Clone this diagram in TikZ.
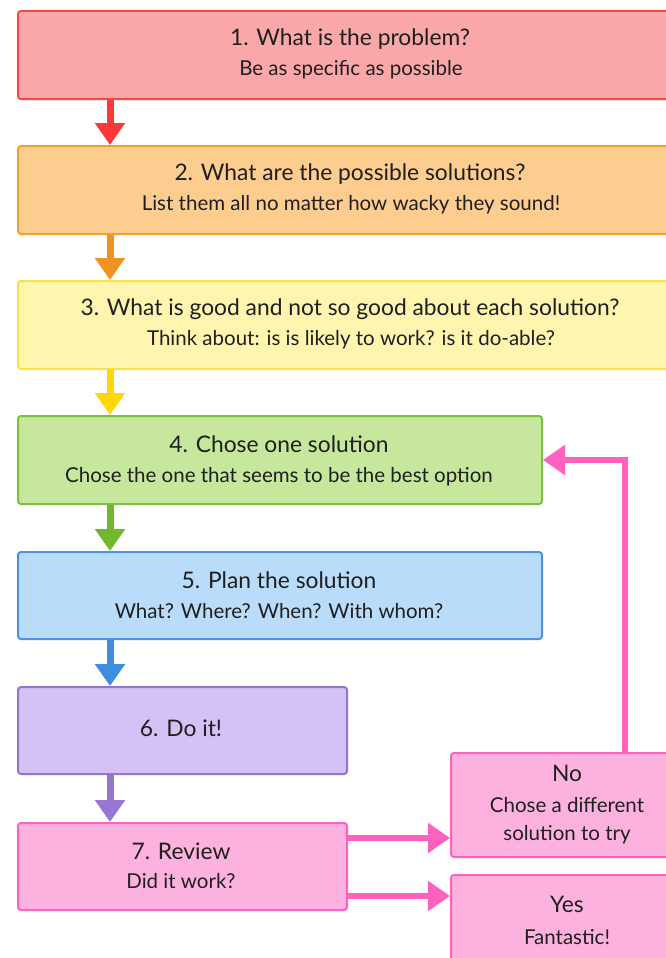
\documentclass[tikz,border=0pt]{standalone}
\usepackage{fontspec}
\setmainfont{Lato}
\usetikzlibrary{arrows.meta}

\definecolor{redfill}{HTML}{F9A7A9}\definecolor{redline}{HTML}{F24A4A}\definecolor{redarrow}{HTML}{FA3A3A}
\definecolor{orgfill}{HTML}{FDCD90}\definecolor{orgline}{HTML}{F2A02E}\definecolor{orgarrow}{HTML}{F2921E}
\definecolor{yelfill}{HTML}{FFF5AE}\definecolor{yelline}{HTML}{FAE04A}\definecolor{yelarrow}{HTML}{FFD60A}
\definecolor{grnfill}{HTML}{C6E79C}\definecolor{grnline}{HTML}{7DBF3F}\definecolor{grnarrow}{HTML}{72B82C}
\definecolor{blufill}{HTML}{B9DCFB}\definecolor{bluline}{HTML}{4C93E0}\definecolor{bluarrow}{HTML}{3E8EE0}
\definecolor{purfill}{HTML}{D4C1F6}\definecolor{purline}{HTML}{9474D2}\definecolor{purarrow}{HTML}{9676D0}
\definecolor{pnkfill}{HTML}{FDB1DF}\definecolor{pnkline}{HTML}{FF62BC}\definecolor{pnkarrow}{HTML}{FF62BE}

\tikzset{
  stepbox/.style={draw, line width=2pt, rounded corners=3pt, anchor=north west, inner sep=0pt},
  ttl/.style={font=\fontsize{22.8}{26}\selectfont, anchor=center, text=black!88},
  sub/.style={font=\fontsize{20.5}{24}\selectfont, anchor=center, text=black!88},
  flow/.style={line width=7pt, -{Triangle[width=29pt,length=22pt]}},
}

\begin{document}
\begin{tikzpicture}[x=1pt,y=-1pt]
\useasboundingbox (0,0) rectangle (665,958);
\fill[white] (0,0) rectangle (665,958);

% main column of steps
\node[stepbox, fill=redfill, draw=redline, minimum width=666pt, minimum height=88pt] (b1) at (17,10) {};
\node[stepbox, fill=orgfill, draw=orgline, minimum width=666pt, minimum height=88pt] (b2) at (17,145) {};
\node[stepbox, fill=yelfill, draw=yelline, minimum width=666pt, minimum height=88pt] (b3) at (17,280) {};
\node[stepbox, fill=grnfill, draw=grnline, minimum width=524pt, minimum height=88pt] (b4) at (17,415) {};
\node[stepbox, fill=blufill, draw=bluline, minimum width=524pt, minimum height=87pt] (b5) at (17,551) {};
\node[stepbox, fill=purfill, draw=purline, minimum width=329pt, minimum height=87pt] (b6) at (17,686) {};
\node[stepbox, fill=pnkfill, draw=pnkline, minimum width=329pt, minimum height=87pt] (b7) at (17,822) {};
% outcomes of the review
\node[stepbox, fill=pnkfill, draw=pnkline, minimum width=234pt, minimum height=104pt] (no) at (450,752) {};
\node[stepbox, fill=pnkfill, draw=pnkline, minimum width=234pt, minimum height=100pt] (yes) at (450,874) {};

% texts
\node[ttl] (t1) at (350,39) {1. What is the problem?};
\node[sub] (s1) at (351,70) {Be as specific as possible};
\node[ttl] (t2) at (350,174) {2. What are the possible solutions?};
\node[sub] (s2) at (351,205) {List them all no matter how wacky they sound!};
\node[ttl] (t3) at (350,309) {3. What is good and not so good about each solution?};
\node[sub] (s3) at (351,340) {Think about: is is likely to work? is it do-able?};
\node[ttl] (t4) at (279,444) {4. Chose one solution};
\node[sub] (s4) at (279,477) {Chose the one that seems to be the best option};
\node[ttl] (t5) at (279,580) {5. Plan the solution};
\node[sub] (s5) at (279,611) {What? Where? When? With whom?};
\node[ttl] (t6) at (181,728) {6. Do it!};
\node[ttl] (t7) at (181,851) {7. Review};
\node[sub] (s7) at (181,881) {Did it work?};
\node[ttl] (tn) at (567,773) {No};
\node[sub] (sn1) at (567,805) {Chose a different};
\node[sub] (sn2) at (567,835) {solution to try};
\node[ttl] (ty) at (567,904) {Yes};
\node[sub] (sy) at (567,937) {Fantastic!};

% arrows between steps
\draw[flow, draw=redarrow] (b1.south west -| 110,0) -- (b2.north west -| 110,0);
\draw[flow, draw=orgarrow] (b2.south west -| 110,0) -- (b3.north west -| 110,0);
\draw[flow, draw=yelarrow] (b3.south west -| 110,0) -- (b4.north west -| 110,0);
\draw[flow, draw=grnarrow] (b4.south west -| 110,0) -- (b5.north west -| 110,0);
\draw[flow, draw=bluarrow] (b5.south west -| 110,0) -- (b6.north west -| 110,0);
\draw[flow, draw=purarrow] (b6.south west -| 110,0) -- (b7.north west -| 110,0);

% review outcomes and the loop back
\draw[flow, line width=6pt, draw=pnkarrow] (b7.east |- 0,838) -- (no.west |- 0,838);
\draw[flow, line width=6pt, draw=pnkarrow] (b7.east |- 0,896) -- (yes.west |- 0,896);
\draw[flow, line width=6pt, draw=pnkarrow] (no.north -| 625,0) -- (625,460) -- (b4.east |- 0,460);
\end{tikzpicture}
\end{document}
